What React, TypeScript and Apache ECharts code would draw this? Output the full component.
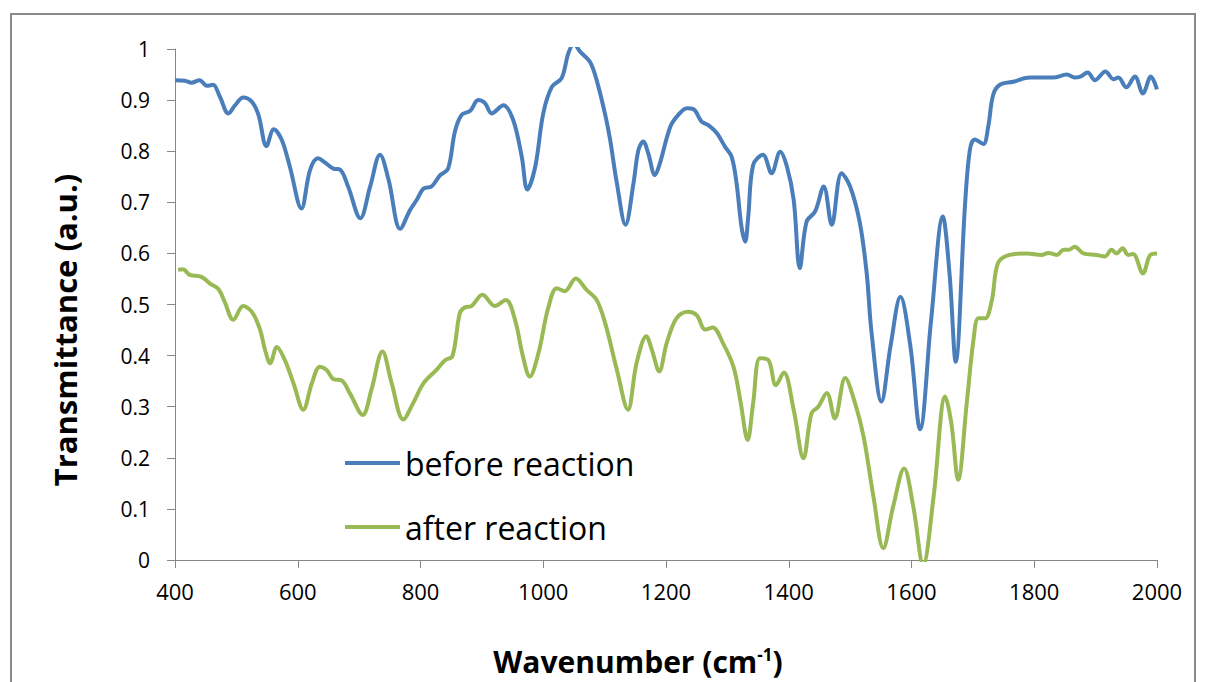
import React, { useEffect, useRef } from "react";
import * as echarts from "echarts";

const xTicks = [400, 600, 800, 1000, 1200, 1400, 1600, 1800, 2000];

const beforeX = [400, 416, 427, 440, 452, 462, 473, 487, 498, 511, 525, 536, 549, 561, 574, 587, 606, 620, 633, 644, 658, 669, 682, 702, 718, 734, 748, 767, 783, 794, 805, 818, 832, 845, 856, 867, 881, 894, 905, 916, 935, 951, 965, 974, 987, 1000, 1014, 1030, 1041, 1050, 1060, 1076, 1087, 1101, 1109, 1120, 1134, 1147, 1155, 1163, 1171, 1182, 1190, 1207, 1220, 1234, 1245, 1258, 1269, 1283, 1296, 1307, 1315, 1323, 1329, 1334, 1342, 1358, 1372, 1386, 1397, 1408, 1418, 1429, 1443, 1457, 1470, 1486, 1500, 1516, 1527, 1535, 1551, 1566, 1582, 1598, 1614, 1632, 1651, 1662, 1672, 1687, 1695, 1703, 1717, 1725, 1733, 1744, 1766, 1793, 1831, 1853, 1866, 1875, 1887, 1899, 1916, 1929, 1937, 1950, 1964, 1977, 1990, 2000];
const beforeY = [0.939, 0.938, 0.934, 0.939, 0.928, 0.93, 0.907, 0.874, 0.89, 0.905, 0.897, 0.871, 0.81, 0.843, 0.822, 0.77, 0.688, 0.763, 0.786, 0.778, 0.766, 0.764, 0.731, 0.669, 0.731, 0.793, 0.744, 0.648, 0.685, 0.705, 0.727, 0.731, 0.753, 0.766, 0.838, 0.871, 0.879, 0.9, 0.894, 0.874, 0.89, 0.861, 0.789, 0.725, 0.77, 0.874, 0.926, 0.943, 0.992, 1.01, 0.995, 0.975, 0.939, 0.871, 0.822, 0.737, 0.656, 0.737, 0.802, 0.819, 0.796, 0.753, 0.776, 0.848, 0.871, 0.884, 0.882, 0.858, 0.851, 0.835, 0.809, 0.789, 0.737, 0.652, 0.623, 0.672, 0.773, 0.793, 0.757, 0.799, 0.77, 0.705, 0.571, 0.662, 0.682, 0.731, 0.656, 0.757, 0.731, 0.659, 0.561, 0.444, 0.31, 0.42, 0.515, 0.42, 0.256, 0.47, 0.672, 0.56, 0.388, 0.691, 0.802, 0.823, 0.814, 0.848, 0.91, 0.93, 0.936, 0.944, 0.944, 0.95, 0.944, 0.946, 0.954, 0.939, 0.956, 0.941, 0.944, 0.925, 0.946, 0.913, 0.946, 0.921];

const afterX = [405, 413, 424, 443, 457, 471, 481, 495, 511, 525, 538, 547, 555, 566, 579, 593, 609, 623, 636, 647, 658, 672, 685, 706, 720, 738, 753, 772, 788, 805, 826, 840, 852, 864, 872, 883, 901, 921, 939, 954, 967, 978, 992, 1008, 1022, 1035, 1053, 1071, 1087, 1101, 1120, 1138, 1152, 1168, 1177, 1189, 1201, 1217, 1236, 1250, 1264, 1276, 1293, 1310, 1321, 1333, 1342, 1353, 1367, 1379, 1392, 1408, 1424, 1437, 1448, 1462, 1475, 1492, 1508, 1522, 1538, 1554, 1570, 1588, 1603, 1619, 1636, 1655, 1665, 1676, 1690, 1701, 1709, 1720, 1731, 1741, 1760, 1788, 1812, 1823, 1837, 1848, 1856, 1866, 1880, 1901, 1915, 1926, 1934, 1944, 1953, 1961, 1977, 1989, 2000];
const afterY = [0.568, 0.569, 0.558, 0.554, 0.541, 0.53, 0.505, 0.47, 0.497, 0.486, 0.453, 0.41, 0.385, 0.417, 0.391, 0.346, 0.294, 0.346, 0.378, 0.372, 0.354, 0.351, 0.326, 0.284, 0.333, 0.408, 0.346, 0.275, 0.307, 0.346, 0.372, 0.391, 0.399, 0.483, 0.494, 0.497, 0.519, 0.497, 0.509, 0.47, 0.398, 0.359, 0.404, 0.493, 0.532, 0.526, 0.551, 0.528, 0.509, 0.463, 0.372, 0.294, 0.385, 0.438, 0.411, 0.369, 0.424, 0.473, 0.486, 0.479, 0.451, 0.455, 0.424, 0.378, 0.313, 0.235, 0.307, 0.395, 0.391, 0.342, 0.367, 0.294, 0.199, 0.287, 0.3, 0.327, 0.277, 0.356, 0.307, 0.241, 0.124, 0.023, 0.104, 0.179, 0.104, -0.01, 0.124, 0.32, 0.267, 0.157, 0.307, 0.431, 0.473, 0.473, 0.509, 0.581, 0.597, 0.6, 0.597, 0.601, 0.597, 0.607, 0.607, 0.613, 0.6, 0.597, 0.594, 0.607, 0.6, 0.61, 0.597, 0.599, 0.561, 0.597, 0.6];

const seriesNames = ["before reaction", "after reaction"];
const seriesColors = ["#4a7ebb", "#98b954"];

const FONT = "'Open Sans', sans-serif";

export default function App() {
  const ref = useRef<HTMLDivElement>(null);
  useEffect(() => {
    document.body.style.margin = "0";
    const chart = echarts.init(ref.current!, null, { renderer: "svg" });
    const zip = (xs: number[], ys: number[]) => xs.map((x, i) => [x, ys[i]]);
    chart.setOption({
      animation: false,
      backgroundColor: "#ffffff",
      textStyle: { fontFamily: FONT },
      grid: { left: 175, top: 49, right: 51, bottom: 122, containLabel: false },
      graphic: [
        {
          type: "rect",
          shape: { x: 11, y: 14, width: 1184, height: 720 },
          style: { fill: "none", stroke: "#8a8a8a", lineWidth: 2 },
          silent: true,
        },
        {
          type: "text",
          x: 65,
          y: 330,
          rotation: Math.PI / 2,
          style: {
            text: "Transmittance (a.u.)",
            font: `bold 31px ${FONT}`,
            fill: "#000",
            align: "center",
            verticalAlign: "middle",
          },
        },
        {
          type: "text",
          x: 638,
          y: 661,
          style: {
            text: "Wavenumber (cm{sup|-1})",
            font: `bold 30px ${FONT}`,
            fill: "#000",
            align: "center",
            verticalAlign: "middle",
            rich: {
              sup: { font: `bold 17px ${FONT}`, fill: "#000", verticalAlign: "top", padding: [0, 0, 14, 0] },
            },
          },
        },
      ],
      legend: {
        orient: "vertical",
        left: 345,
        top: 447,
        padding: 0,
        itemWidth: 55,
        itemHeight: 4,
        itemGap: 32,
        icon: "rect",
        textStyle: { fontSize: 32, color: "#000", fontFamily: FONT },
        data: seriesNames,
      },
      xAxis: {
        type: "value",
        min: xTicks[0],
        max: xTicks[xTicks.length - 1],
        interval: 200,
        splitLine: { show: false },
        axisLine: { show: true, onZero: false, lineStyle: { color: "#868686", width: 1 } },
        axisTick: { show: true, length: 8, inside: false, lineStyle: { color: "#868686" } },
        axisLabel: { fontSize: 22, color: "#000", margin: 20, fontFamily: FONT, formatter: (v: number) => String(v) },
      },
      yAxis: {
        type: "value",
        min: 0,
        max: 1,
        interval: 0.1,
        splitLine: { show: false },
        axisLine: { show: true, lineStyle: { color: "#868686", width: 1 } },
        axisTick: { show: true, length: 8, inside: false, lineStyle: { color: "#868686" } },
        axisLabel: { fontSize: 21, color: "#000", margin: 25, fontFamily: FONT, formatter: (v: number) => String(Math.round(v * 10) / 10) },
      },
      series: [
        {
          name: seriesNames[0],
          type: "line",
          data: zip(beforeX, beforeY),
          showSymbol: false,
          smooth: 0.35,
          clip: true,
          lineStyle: { color: seriesColors[0], width: 4 },
          itemStyle: { color: seriesColors[0] },
        },
        {
          name: seriesNames[1],
          type: "line",
          data: zip(afterX, afterY),
          showSymbol: false,
          smooth: 0.35,
          clip: true,
          lineStyle: { color: seriesColors[1], width: 4 },
          itemStyle: { color: seriesColors[1] },
        },
      ],
    });
    return () => chart.dispose();
  }, []);
  return <div ref={ref} style={{ width: 1208, height: 682 }} />;
}
